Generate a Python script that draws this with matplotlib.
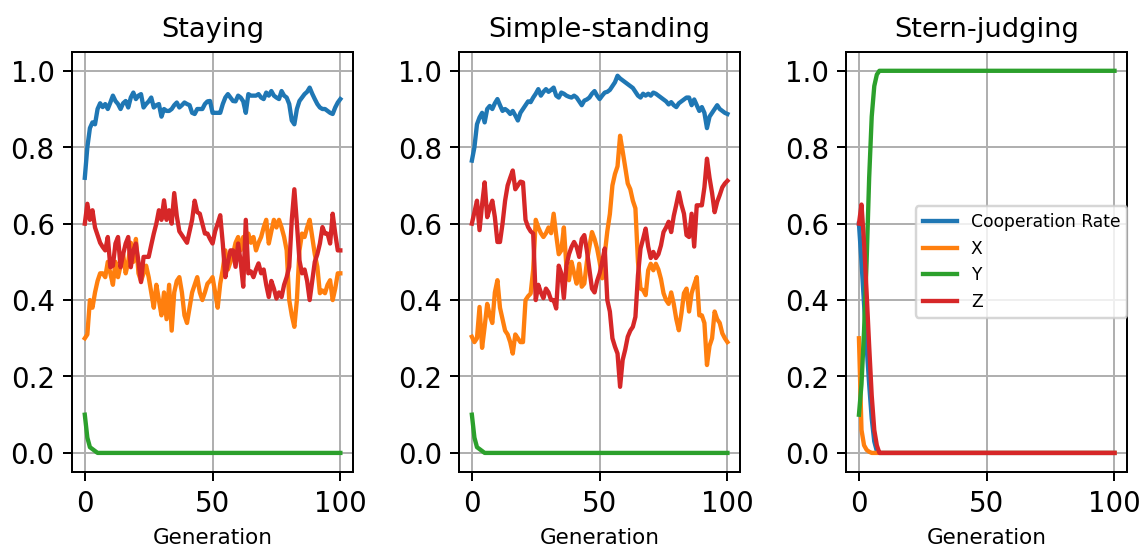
import numpy as np
import matplotlib
matplotlib.use("Agg")
import matplotlib.pyplot as plt

# generations 0..100
generations = list(range(101))

titles = ["Staying", "Simple-standing", "Stern-judging"]
labels = ["Cooperation Rate", "X", "Y", "Z"]

# ---- Staying ----
staying_coop = [
    0.72, 0.80, 0.85, 0.865, 0.86, 0.90, 0.915, 0.905, 0.913, 0.90,
    0.917, 0.935, 0.921, 0.913, 0.90, 0.915, 0.921, 0.904, 0.93, 0.943,
    0.926, 0.935, 0.939, 0.904, 0.913, 0.92, 0.93, 0.904, 0.91, 0.913,
    0.88, 0.90, 0.895, 0.895, 0.90, 0.91, 0.917, 0.904, 0.91, 0.917,
    0.913, 0.91, 0.89, 0.887, 0.90, 0.90, 0.90, 0.913, 0.92, 0.921,
    0.89, 0.89, 0.89, 0.89, 0.913, 0.93, 0.939, 0.93, 0.921, 0.92,
    0.935, 0.93, 0.92, 0.89, 0.939, 0.935, 0.935, 0.935, 0.939, 0.93,
    0.926, 0.943, 0.935, 0.947, 0.935, 0.93, 0.926, 0.947, 0.935, 0.93,
    0.913, 0.87, 0.86, 0.90, 0.921, 0.93, 0.939, 0.945, 0.956, 0.94,
    0.926, 0.913, 0.904, 0.90, 0.90, 0.895, 0.89, 0.887, 0.904, 0.917,
    0.926]
staying_x = [
    0.30, 0.31, 0.40, 0.38, 0.42, 0.45, 0.47, 0.47, 0.46, 0.50,
    0.47, 0.44, 0.50, 0.46, 0.49, 0.52, 0.47, 0.50, 0.55, 0.50,
    0.56, 0.47, 0.45, 0.47, 0.49, 0.46, 0.42, 0.38, 0.44, 0.40,
    0.36, 0.42, 0.35, 0.44, 0.32, 0.42, 0.45, 0.46, 0.42, 0.36,
    0.34, 0.38, 0.42, 0.44, 0.46, 0.42, 0.40, 0.42, 0.443, 0.45,
    0.46, 0.42, 0.38, 0.443, 0.48, 0.53, 0.48, 0.50, 0.52, 0.55,
    0.565, 0.53, 0.565, 0.55, 0.574, 0.55, 0.565, 0.53, 0.55, 0.565,
    0.59, 0.61, 0.548, 0.58, 0.61, 0.59, 0.61, 0.59, 0.565, 0.53,
    0.40, 0.36, 0.33, 0.40, 0.53, 0.574, 0.565, 0.59, 0.61, 0.565,
    0.52, 0.487, 0.418, 0.425, 0.418, 0.44, 0.452, 0.40, 0.43, 0.47,
    0.47]
staying_y = [
    0.10, 0.04, 0.015, 0.01, 0.005, 0.0, 0.0, 0.0, 0.0, 0.0,
    0.0, 0.0, 0.0, 0.0, 0.0, 0.0, 0.0, 0.0, 0.0, 0.0,
    0.0, 0.0, 0.0, 0.0, 0.0, 0.0, 0.0, 0.0, 0.0, 0.0,
    0.0, 0.0, 0.0, 0.0, 0.0, 0.0, 0.0, 0.0, 0.0, 0.0,
    0.0, 0.0, 0.0, 0.0, 0.0, 0.0, 0.0, 0.0, 0.0, 0.0,
    0.0, 0.0, 0.0, 0.0, 0.0, 0.0, 0.0, 0.0, 0.0, 0.0,
    0.0, 0.0, 0.0, 0.0, 0.0, 0.0, 0.0, 0.0, 0.0, 0.0,
    0.0, 0.0, 0.0, 0.0, 0.0, 0.0, 0.0, 0.0, 0.0, 0.0,
    0.0, 0.0, 0.0, 0.0, 0.0, 0.0, 0.0, 0.0, 0.0, 0.0,
    0.0, 0.0, 0.0, 0.0, 0.0, 0.0, 0.0, 0.0, 0.0, 0.0,
    0.0]
staying_z = [
    0.60, 0.652, 0.61, 0.635, 0.59, 0.57, 0.55, 0.539, 0.53, 0.565,
    0.486, 0.49, 0.548, 0.565, 0.486, 0.52, 0.548, 0.565, 0.486, 0.53,
    0.548, 0.50, 0.447, 0.513, 0.513, 0.513, 0.544, 0.574, 0.60, 0.635,
    0.61, 0.661, 0.61, 0.635, 0.60, 0.68, 0.62, 0.58, 0.57, 0.56,
    0.55, 0.58, 0.61, 0.66, 0.63, 0.626, 0.60, 0.574, 0.574, 0.56,
    0.548, 0.58, 0.60, 0.622, 0.548, 0.46, 0.50, 0.53, 0.53, 0.487,
    0.548, 0.50, 0.435, 0.61, 0.47, 0.475, 0.46, 0.48, 0.496, 0.47,
    0.48, 0.44, 0.408, 0.45, 0.43, 0.404, 0.42, 0.408, 0.44, 0.46,
    0.487, 0.61, 0.69, 0.60, 0.504, 0.47, 0.48, 0.45, 0.40, 0.45,
    0.50, 0.52, 0.548, 0.591, 0.574, 0.574, 0.548, 0.626, 0.574, 0.53,
    0.53]

# ---- Simple-standing ----
simple_coop = [
    0.765, 0.80, 0.86, 0.878, 0.89, 0.865, 0.90, 0.908, 0.90, 0.915,
    0.926, 0.91, 0.895, 0.90, 0.895, 0.887, 0.895, 0.883, 0.87, 0.89,
    0.90, 0.91, 0.92, 0.918, 0.93, 0.94, 0.952, 0.935, 0.945, 0.952,
    0.945, 0.95, 0.956, 0.935, 0.93, 0.943, 0.94, 0.935, 0.932, 0.93,
    0.935, 0.93, 0.92, 0.91, 0.922, 0.925, 0.93, 0.94, 0.947, 0.935,
    0.926, 0.935, 0.943, 0.945, 0.95, 0.96, 0.97, 0.987, 0.98, 0.975,
    0.97, 0.965, 0.96, 0.955, 0.945, 0.935, 0.93, 0.94, 0.935, 0.94,
    0.935, 0.943, 0.94, 0.935, 0.93, 0.925, 0.92, 0.912, 0.918, 0.91,
    0.905, 0.915, 0.92, 0.925, 0.93, 0.93, 0.91, 0.925, 0.91, 0.895,
    0.905, 0.89, 0.85, 0.88, 0.89, 0.90, 0.91, 0.90, 0.895, 0.89,
    0.887]
simple_x = [
    0.304, 0.29, 0.30, 0.382, 0.275, 0.33, 0.39, 0.36, 0.34, 0.42,
    0.452, 0.38, 0.35, 0.32, 0.31, 0.29, 0.26, 0.31, 0.30, 0.29,
    0.29, 0.40, 0.41, 0.417, 0.48, 0.61, 0.59, 0.575, 0.565, 0.575,
    0.59, 0.575, 0.626, 0.57, 0.52, 0.53, 0.59, 0.487, 0.452, 0.50,
    0.47, 0.443, 0.495, 0.435, 0.443, 0.50, 0.54, 0.578, 0.56, 0.535,
    0.50, 0.457, 0.52, 0.58, 0.625, 0.70, 0.73, 0.75, 0.83, 0.79,
    0.748, 0.705, 0.69, 0.66, 0.64, 0.50, 0.43, 0.426, 0.413, 0.478,
    0.495, 0.478, 0.495, 0.48, 0.455, 0.418, 0.40, 0.39, 0.42, 0.39,
    0.35, 0.321, 0.365, 0.418, 0.43, 0.37, 0.418, 0.44, 0.46, 0.36,
    0.36, 0.34, 0.23, 0.28, 0.30, 0.37, 0.35, 0.34, 0.313, 0.30,
    0.29]
simple_y = [
    0.10, 0.04, 0.015, 0.01, 0.005, 0.0, 0.0, 0.0, 0.0, 0.0,
    0.0, 0.0, 0.0, 0.0, 0.0, 0.0, 0.0, 0.0, 0.0, 0.0,
    0.0, 0.0, 0.0, 0.0, 0.0, 0.0, 0.0, 0.0, 0.0, 0.0,
    0.0, 0.0, 0.0, 0.0, 0.0, 0.0, 0.0, 0.0, 0.0, 0.0,
    0.0, 0.0, 0.0, 0.0, 0.0, 0.0, 0.0, 0.0, 0.0, 0.0,
    0.0, 0.0, 0.0, 0.0, 0.0, 0.0, 0.0, 0.0, 0.0, 0.0,
    0.0, 0.0, 0.0, 0.0, 0.0, 0.0, 0.0, 0.0, 0.0, 0.0,
    0.0, 0.0, 0.0, 0.0, 0.0, 0.0, 0.0, 0.0, 0.0, 0.0,
    0.0, 0.0, 0.0, 0.0, 0.0, 0.0, 0.0, 0.0, 0.0, 0.0,
    0.0, 0.0, 0.0, 0.0, 0.0, 0.0, 0.0, 0.0, 0.0, 0.0,
    0.0]
simple_z = [
    0.60, 0.63, 0.66, 0.583, 0.65, 0.708, 0.617, 0.64, 0.66, 0.617,
    0.552, 0.552, 0.60, 0.66, 0.70, 0.72, 0.739, 0.69, 0.70, 0.71,
    0.708, 0.61, 0.591, 0.58, 0.574, 0.40, 0.44, 0.42, 0.405, 0.43,
    0.42, 0.40, 0.40, 0.378, 0.49, 0.47, 0.405, 0.49, 0.52, 0.539,
    0.552, 0.539, 0.513, 0.56, 0.57, 0.53, 0.48, 0.43, 0.42, 0.45,
    0.47, 0.50, 0.535, 0.40, 0.37, 0.30, 0.278, 0.26, 0.173, 0.243,
    0.27, 0.304, 0.32, 0.33, 0.356, 0.465, 0.535, 0.56, 0.587, 0.54,
    0.51, 0.526, 0.51, 0.52, 0.543, 0.578, 0.59, 0.605, 0.578, 0.62,
    0.65, 0.682, 0.65, 0.626, 0.57, 0.565, 0.626, 0.54, 0.648, 0.648,
    0.648, 0.695, 0.77, 0.72, 0.68, 0.63, 0.657, 0.675, 0.695, 0.705,
    0.712]

# ---- Stern-judging ----
stern_coop = [
    0.60, 0.50, 0.39, 0.28, 0.18, 0.09, 0.03, 0.005, 0.0, 0.0,
    0.0, 0.0, 0.0, 0.0, 0.0, 0.0, 0.0, 0.0, 0.0, 0.0,
    0.0, 0.0, 0.0, 0.0, 0.0, 0.0, 0.0, 0.0, 0.0, 0.0,
    0.0, 0.0, 0.0, 0.0, 0.0, 0.0, 0.0, 0.0, 0.0, 0.0,
    0.0, 0.0, 0.0, 0.0, 0.0, 0.0, 0.0, 0.0, 0.0, 0.0,
    0.0, 0.0, 0.0, 0.0, 0.0, 0.0, 0.0, 0.0, 0.0, 0.0,
    0.0, 0.0, 0.0, 0.0, 0.0, 0.0, 0.0, 0.0, 0.0, 0.0,
    0.0, 0.0, 0.0, 0.0, 0.0, 0.0, 0.0, 0.0, 0.0, 0.0,
    0.0, 0.0, 0.0, 0.0, 0.0, 0.0, 0.0, 0.0, 0.0, 0.0,
    0.0, 0.0, 0.0, 0.0, 0.0, 0.0, 0.0, 0.0, 0.0, 0.0,
    0.0]
stern_x = [
    0.30, 0.06, 0.02, 0.008, 0.003, 0.0, 0.0, 0.0, 0.0, 0.0,
    0.0, 0.0, 0.0, 0.0, 0.0, 0.0, 0.0, 0.0, 0.0, 0.0,
    0.0, 0.0, 0.0, 0.0, 0.0, 0.0, 0.0, 0.0, 0.0, 0.0,
    0.0, 0.0, 0.0, 0.0, 0.0, 0.0, 0.0, 0.0, 0.0, 0.0,
    0.0, 0.0, 0.0, 0.0, 0.0, 0.0, 0.0, 0.0, 0.0, 0.0,
    0.0, 0.0, 0.0, 0.0, 0.0, 0.0, 0.0, 0.0, 0.0, 0.0,
    0.0, 0.0, 0.0, 0.0, 0.0, 0.0, 0.0, 0.0, 0.0, 0.0,
    0.0, 0.0, 0.0, 0.0, 0.0, 0.0, 0.0, 0.0, 0.0, 0.0,
    0.0, 0.0, 0.0, 0.0, 0.0, 0.0, 0.0, 0.0, 0.0, 0.0,
    0.0, 0.0, 0.0, 0.0, 0.0, 0.0, 0.0, 0.0, 0.0, 0.0,
    0.0]
stern_y = [
    0.10, 0.18, 0.32, 0.50, 0.72, 0.88, 0.96, 0.99, 1.0, 1.0,
    1.0, 1.0, 1.0, 1.0, 1.0, 1.0, 1.0, 1.0, 1.0, 1.0,
    1.0, 1.0, 1.0, 1.0, 1.0, 1.0, 1.0, 1.0, 1.0, 1.0,
    1.0, 1.0, 1.0, 1.0, 1.0, 1.0, 1.0, 1.0, 1.0, 1.0,
    1.0, 1.0, 1.0, 1.0, 1.0, 1.0, 1.0, 1.0, 1.0, 1.0,
    1.0, 1.0, 1.0, 1.0, 1.0, 1.0, 1.0, 1.0, 1.0, 1.0,
    1.0, 1.0, 1.0, 1.0, 1.0, 1.0, 1.0, 1.0, 1.0, 1.0,
    1.0, 1.0, 1.0, 1.0, 1.0, 1.0, 1.0, 1.0, 1.0, 1.0,
    1.0, 1.0, 1.0, 1.0, 1.0, 1.0, 1.0, 1.0, 1.0, 1.0,
    1.0, 1.0, 1.0, 1.0, 1.0, 1.0, 1.0, 1.0, 1.0, 1.0,
    1.0]
stern_z = [
    0.60, 0.65, 0.55, 0.42, 0.28, 0.15, 0.06, 0.02, 0.0, 0.0,
    0.0, 0.0, 0.0, 0.0, 0.0, 0.0, 0.0, 0.0, 0.0, 0.0,
    0.0, 0.0, 0.0, 0.0, 0.0, 0.0, 0.0, 0.0, 0.0, 0.0,
    0.0, 0.0, 0.0, 0.0, 0.0, 0.0, 0.0, 0.0, 0.0, 0.0,
    0.0, 0.0, 0.0, 0.0, 0.0, 0.0, 0.0, 0.0, 0.0, 0.0,
    0.0, 0.0, 0.0, 0.0, 0.0, 0.0, 0.0, 0.0, 0.0, 0.0,
    0.0, 0.0, 0.0, 0.0, 0.0, 0.0, 0.0, 0.0, 0.0, 0.0,
    0.0, 0.0, 0.0, 0.0, 0.0, 0.0, 0.0, 0.0, 0.0, 0.0,
    0.0, 0.0, 0.0, 0.0, 0.0, 0.0, 0.0, 0.0, 0.0, 0.0,
    0.0, 0.0, 0.0, 0.0, 0.0, 0.0, 0.0, 0.0, 0.0, 0.0,
    0.0]

panels = [
    [staying_coop, staying_x, staying_y, staying_z],
    [simple_coop, simple_x, simple_y, simple_z],
    [stern_coop, stern_x, stern_y, stern_z],
]

fig, axes = plt.subplots(1, 3, figsize=(1141.3 / 178, 547.3 / 178), dpi=178)
fig.subplots_adjust(left=0.0631, right=0.9877, bottom=0.137, top=0.905, wspace=0.377)

for ax, title, series in zip(axes, titles, panels):
    for s, lab in zip(series, labels):
        assert len(s) == len(generations)
        ax.plot(generations, s, label=lab, linewidth=1.75)
    ax.set_title(title, fontsize=11)
    ax.set_xlabel("Generation", fontsize=8.7)
    ax.set_ylim(-0.05, 1.05)
    ax.set_yticks([0.0, 0.2, 0.4, 0.6, 0.8, 1.0])
    ax.set_xticks([0, 50, 100])
    ax.tick_params(labelsize=11.2)
    ax.grid(True)

axes[2].legend(loc="center right", fontsize="x-small", borderaxespad=0.0)

plt.savefig("out.png", dpi=178)
